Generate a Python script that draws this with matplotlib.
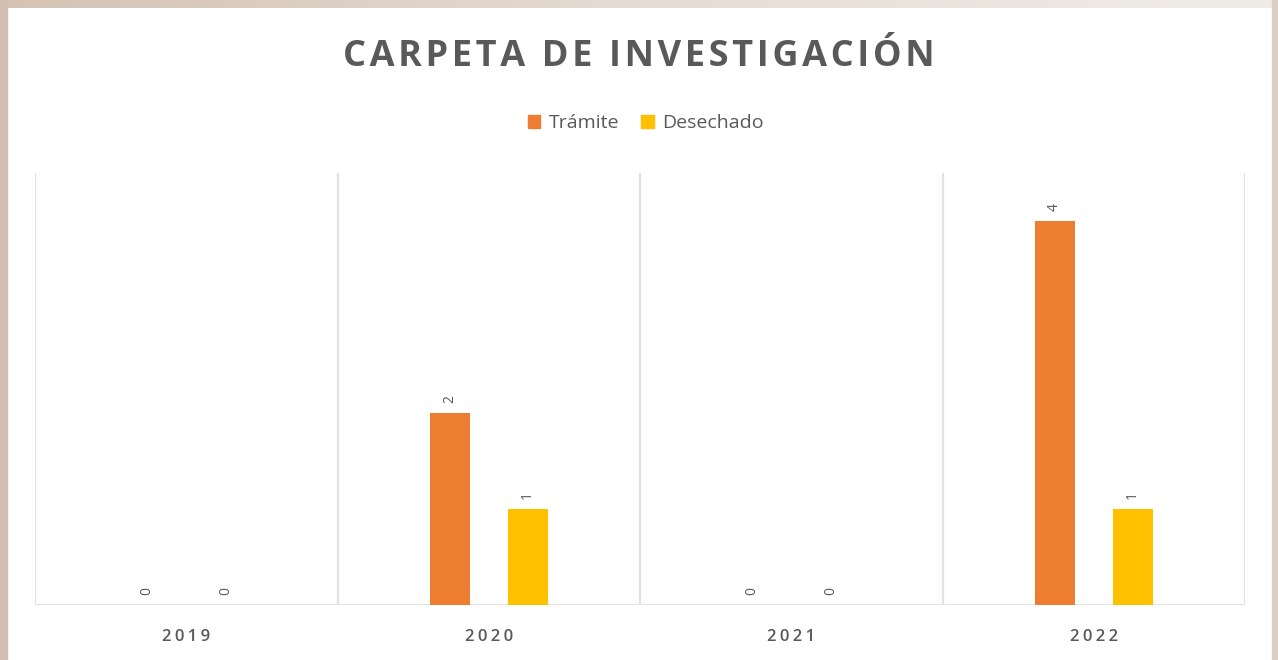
import matplotlib
matplotlib.use("Agg")
import matplotlib.pyplot as plt
import numpy as np
from matplotlib.patches import Rectangle

years = ["2019", "2020", "2021", "2022"]
tramite = [0, 2, 0, 4]
desechado = [0, 1, 0, 1]
series_names = ["Trámite", "Desechado"]

orange = "#ED7D31"
yellow = "#FFC000"
gray = "#595959"
grid = "#E2E2E2"
fonts = ["Open Sans", "DejaVu Sans"]

def spaced(s, sep="\u200a"):
    return sep.join(list(s))

fig = plt.figure(figsize=(12.78, 6.6), dpi=100)
fig.patch.set_facecolor("white")

# frame around the picture
fig.patches.append(Rectangle((0, 0), 7 / 1278, 1, transform=fig.transFigure,
                             color="#D3BFB1", zorder=0))
fig.patches.append(Rectangle((1272 / 1278, 0), 6 / 1278, 1, transform=fig.transFigure,
                             color="#DCCFC5", zorder=0))
top = np.linspace(0, 1, 256).reshape(1, -1)
ax_top = fig.add_axes([0, 1 - 8 / 660, 1, 8 / 660])
ax_top.imshow(top, aspect="auto", cmap=matplotlib.colors.LinearSegmentedColormap.from_list(
    "fr", ["#D5C2B3", "#E6DCD3", "#F0EDE9"]))
ax_top.axis("off")

ax = fig.add_axes([35 / 1278, 55 / 660, 1210 / 1278, 432 / 660])
x = np.arange(len(years))
w = 0.132
off = 0.129
b1 = ax.bar(x - off, tramite, w, color=orange, zorder=3)
b2 = ax.bar(x + off, desechado, w, color=yellow, zorder=3)

ax.set_xlim(-0.5, len(years) - 0.5)
ax.set_ylim(0, 4.5)
for xv in np.arange(-0.5, len(years), 1.0):
    ax.axvline(xv, color=grid, lw=1.6, zorder=1)
ax.axhline(0, color=grid, lw=2.2, zorder=2)
for s in ax.spines.values():
    s.set_visible(False)
ax.set_yticks([])
ax.set_xticks(x)
ax.set_xticklabels([spaced(y, "\u2009") for y in years], fontsize=12, color=gray,
                   family=fonts, fontweight="semibold")
ax.tick_params(axis="x", length=0, pad=17)

for bars, vals in ((b1, tramite), (b2, desechado)):
    for r, v in zip(bars, vals):
        ax.annotate(str(v), (r.get_x() + r.get_width() / 2, v),
                    xytext=(0, 7), textcoords="offset points",
                    rotation=90, ha="center", va="bottom",
                    fontsize=10, color=gray, family=fonts)

fig.text(0.5, 1 - 57 / 660, spaced("CARPETA DE INVESTIGACIÓN"), ha="center", va="center",
         fontsize=26, fontweight="bold", color=gray, family=fonts)

handles = [Rectangle((0, 0), 1, 1, color=orange), Rectangle((0, 0), 1, 1, color=yellow)]
fig.legend(handles, series_names, loc="center", bbox_to_anchor=(646 / 1278, 1 - 123 / 660),
           ncol=2, frameon=False, handlelength=0.65, handleheight=0.65,
           handletextpad=0.45, columnspacing=1.1, labelcolor=gray,
           prop={"family": fonts, "size": 14})

fig.savefig("out.png", dpi=100)
